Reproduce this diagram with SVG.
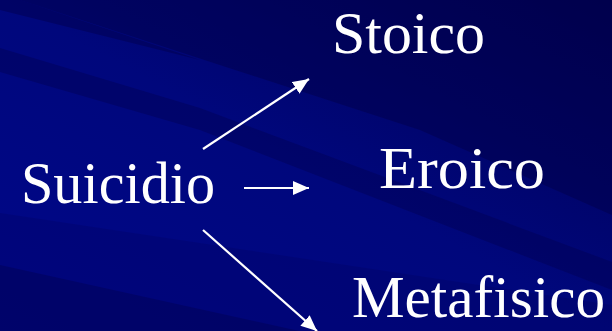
<svg xmlns="http://www.w3.org/2000/svg" width="612" height="331" viewBox="0 0 612 331">
  <style>
    .t { font-family: "Liberation Serif", "Times New Roman", serif; font-size: 60px; fill: #ffffff; }
    .c { stroke: #ffffff; stroke-width: 2.2; fill: none; }
  </style>
  <defs>
    <linearGradient id="bg" x1="0" y1="1" x2="1" y2="0">
      <stop offset="0" stop-color="#00078a"/>
      <stop offset="0.5" stop-color="#00077c"/>
      <stop offset="1" stop-color="#000052"/>
    </linearGradient>
    <marker id="ah" markerUnits="userSpaceOnUse" markerWidth="18" markerHeight="16" refX="16" refY="7" orient="auto">
      <path d="M0,0 L16,7 L0,14 z" fill="#ffffff"/>
    </marker>
  </defs>
  <g id="background">
    <rect width="612" height="331" fill="url(#bg)"/>
    <polygon points="20,0 612,0 612,215 420,130" fill="#000048" opacity="0.45"/>
    <polygon points="0,0 20,0 200,60 0,10" fill="#000050" opacity="0.5"/>
    <polygon points="0,48 0,72 200,130 612,290 612,262 200,108" fill="#000050" opacity="0.4"/>
    <polygon points="0,213 612,305 612,331 0,331" fill="#000050" opacity="0.2"/>
    <polygon points="0,265 612,400 0,400" fill="#000048" opacity="0.35"/>
  </g>
  <g id="connectors">
    <line class="c" x1="203" y1="149" x2="309" y2="79" marker-end="url(#ah)"/>
    <line class="c" x1="244" y1="188" x2="309" y2="188" marker-end="url(#ah)"/>
    <line class="c" x1="203" y1="230" x2="317" y2="331" marker-end="url(#ah)"/>
  </g>
  <g id="node-suicidio"><text class="t" x="21" y="203" textLength="194" lengthAdjust="spacingAndGlyphs">Suicidio</text></g>
  <g id="node-stoico"><text class="t" x="332" y="53" textLength="153" lengthAdjust="spacingAndGlyphs">Stoico</text></g>
  <g id="node-eroico"><text class="t" x="379" y="188" textLength="166" lengthAdjust="spacingAndGlyphs">Eroico</text></g>
  <g id="node-metafisico"><text class="t" x="352" y="317" textLength="253" lengthAdjust="spacingAndGlyphs">Metafisico</text></g>
</svg>
